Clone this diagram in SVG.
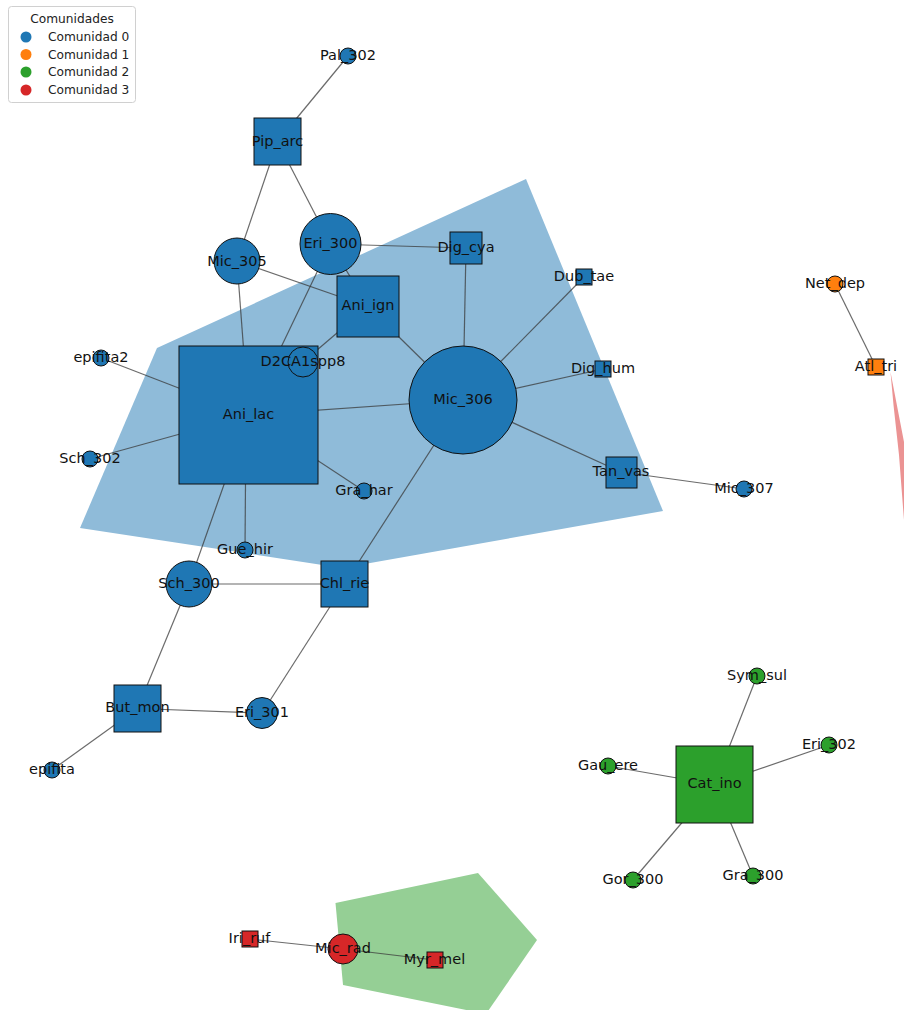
<svg xmlns="http://www.w3.org/2000/svg" width="904" height="1010" viewBox="0 0 904 1010">
<style>
.e{stroke:#3a3a3a;stroke-opacity:0.75;stroke-width:1.2;fill:none}
.n{stroke:#111;stroke-width:1}
.c0{fill:#1f77b4}.c1{fill:#ff7f0e}.c2{fill:#2ca02c}.c3{fill:#d62728}
.l{font-family:"DejaVu Sans","Noto Sans",sans-serif;font-size:14.5px;fill:#111;text-anchor:middle;dominant-baseline:central}
.lg{font-family:"DejaVu Sans","Noto Sans",sans-serif;font-size:12.2px;fill:#222;dominant-baseline:central}
</style>
<rect width="904" height="1010" fill="#fff"/>
<g id="hulls">
<polygon points="526,179 663,511 342,568 80,528 157,348" fill="#8fbbd9"/>
<polygon points="890.5,372 904,442 904,520 899,455 893.5,405" fill="#eb9393"/>
<polygon points="335.5,903 478,873 537,940 486,1014 343,985" fill="#95cf95"/>
</g>
<g id="edges">
<line class="e" x1="348" y1="56" x2="277.5" y2="141.5"/>
<line class="e" x1="277.5" y1="141.5" x2="237" y2="261"/>
<line class="e" x1="277.5" y1="141.5" x2="330.5" y2="244"/>
<line class="e" x1="237" y1="261" x2="368" y2="306.5"/>
<line class="e" x1="237" y1="261" x2="248.5" y2="415"/>
<line class="e" x1="330.5" y1="244" x2="466" y2="248"/>
<line class="e" x1="330.5" y1="244" x2="248.5" y2="415"/>
<line class="e" x1="330.5" y1="244" x2="368" y2="306.5"/>
<line class="e" x1="368" y1="306.5" x2="303" y2="362"/>
<line class="e" x1="368" y1="306.5" x2="463" y2="400"/>
<line class="e" x1="466" y1="248" x2="463" y2="400"/>
<line class="e" x1="584" y1="277" x2="463" y2="400"/>
<line class="e" x1="603" y1="369" x2="463" y2="400"/>
<line class="e" x1="621" y1="472" x2="463" y2="400"/>
<line class="e" x1="621" y1="472" x2="744" y2="489"/>
<line class="e" x1="248.5" y1="415" x2="463" y2="400"/>
<line class="e" x1="463" y1="400" x2="344.5" y2="584"/>
<line class="e" x1="248.5" y1="415" x2="101" y2="358"/>
<line class="e" x1="248.5" y1="415" x2="90" y2="459"/>
<line class="e" x1="248.5" y1="415" x2="364" y2="491"/>
<line class="e" x1="246" y1="415" x2="245" y2="550"/>
<line class="e" x1="248.5" y1="415" x2="189" y2="584"/>
<line class="e" x1="189" y1="584" x2="344.5" y2="584"/>
<line class="e" x1="189" y1="584" x2="137.5" y2="708.5"/>
<line class="e" x1="137.5" y1="708.5" x2="262" y2="713"/>
<line class="e" x1="344.5" y1="584" x2="262" y2="713"/>
<line class="e" x1="137.5" y1="708.5" x2="52" y2="770"/>
<line class="e" x1="835" y1="284" x2="876" y2="367"/>
<line class="e" x1="714.5" y1="784.5" x2="757" y2="676"/>
<line class="e" x1="714.5" y1="784.5" x2="829" y2="745"/>
<line class="e" x1="714.5" y1="784.5" x2="608" y2="766"/>
<line class="e" x1="714.5" y1="784.5" x2="633" y2="880"/>
<line class="e" x1="714.5" y1="784.5" x2="753" y2="876"/>
<line class="e" x1="249.5" y1="939" x2="343" y2="949"/>
<line class="e" x1="343" y1="949" x2="434.5" y2="960"/>
</g>
<g id="Pal_302"><circle class="n c0" cx="348" cy="56" r="8"/><text class="l" x="348" y="55">Pal_302</text></g>
<g id="Pip_arc"><rect class="n c0" x="254" y="118" width="47" height="47"/><text class="l" x="277.5" y="141">Pip_arc</text></g>
<g id="Mic_305"><circle class="n c0" cx="237" cy="261" r="23"/><text class="l" x="237" y="261">Mic_305</text></g>
<g id="Eri_300"><circle class="n c0" cx="330.5" cy="244" r="30.5"/><text class="l" x="330.5" y="243">Eri_300</text></g>
<g id="Ani_ign"><rect class="n c0" x="337" y="276" width="62" height="61"/><text class="l" x="368" y="305">Ani_ign</text></g>
<g id="Dig_cya"><rect class="n c0" x="450" y="232" width="32" height="32"/><text class="l" x="466" y="247">Dig_cya</text></g>
<g id="Dub_tae"><rect class="n c0" x="576" y="269" width="16" height="16"/><text class="l" x="584" y="276">Dub_tae</text></g>
<g id="Dig_hum"><rect class="n c0" x="595" y="361" width="16" height="16"/><text class="l" x="603" y="368">Dig_hum</text></g>
<g id="Mic_306"><circle class="n c0" cx="463" cy="400" r="54"/><text class="l" x="463" y="399">Mic_306</text></g>
<g id="Tan_vas"><rect class="n c0" x="606" y="457" width="31" height="31"/><text class="l" x="621" y="471">Tan_vas</text></g>
<g id="Mic_307"><circle class="n c0" cx="744" cy="489" r="8"/><text class="l" x="744" y="488">Mic_307</text></g>
<g id="Ani_lac"><rect class="n c0" x="179" y="346" width="139" height="138"/><text class="l" x="248.5" y="414">Ani_lac</text></g>
<g id="D2CA1spp8"><circle class="n c0" cx="303" cy="362" r="15"/><text class="l" x="303" y="361">D2CA1spp8</text></g>
<g id="epifita2"><circle class="n c0" cx="101" cy="358" r="8"/><text class="l" x="101" y="357">epifita2</text></g>
<g id="Sch_302"><circle class="n c0" cx="90" cy="459" r="8"/><text class="l" x="90" y="458">Sch_302</text></g>
<g id="Gra_har"><circle class="n c0" cx="364" cy="491" r="8"/><text class="l" x="364" y="490">Gra_har</text></g>
<g id="Gue_hir"><circle class="n c0" cx="245" cy="550" r="8"/><text class="l" x="245" y="549">Gue_hir</text></g>
<g id="Sch_300"><circle class="n c0" cx="189" cy="584" r="23"/><text class="l" x="189" y="583">Sch_300</text></g>
<g id="Chl_rie"><rect class="n c0" x="321" y="561" width="47" height="46"/><text class="l" x="344.5" y="583">Chl_rie</text></g>
<g id="But_mon"><rect class="n c0" x="114" y="685" width="47" height="47"/><text class="l" x="137.5" y="707">But_mon</text></g>
<g id="Eri_301"><circle class="n c0" cx="262" cy="713" r="15.5"/><text class="l" x="262" y="712">Eri_301</text></g>
<g id="epifita"><circle class="n c0" cx="52" cy="770" r="8"/><text class="l" x="52" y="769">epifita</text></g>
<g id="Net_dep"><circle class="n c1" cx="835" cy="284" r="8"/><text class="l" x="835" y="283">Net_dep</text></g>
<g id="Atl_tri"><rect class="n c1" x="868" y="359" width="16" height="16"/><text class="l" x="876" y="366">Atl_tri</text></g>
<g id="Cat_ino"><rect class="n c2" x="676" y="746" width="77" height="77"/><text class="l" x="714.5" y="783">Cat_ino</text></g>
<g id="Sym_sul"><circle class="n c2" cx="757" cy="676" r="8"/><text class="l" x="757" y="675">Sym_sul</text></g>
<g id="Eri_302"><circle class="n c2" cx="829" cy="745" r="8"/><text class="l" x="829" y="744">Eri_302</text></g>
<g id="Gau_ere"><circle class="n c2" cx="608" cy="766" r="8"/><text class="l" x="608" y="765">Gau_ere</text></g>
<g id="Gor_300"><circle class="n c2" cx="633" cy="880" r="8"/><text class="l" x="633" y="879">Gor_300</text></g>
<g id="Gra_300"><circle class="n c2" cx="753" cy="876" r="8"/><text class="l" x="753" y="875">Gra_300</text></g>
<g id="Iri_ruf"><rect class="n c3" x="242" y="931" width="16" height="16"/><text class="l" x="249.5" y="938">Iri_ruf</text></g>
<g id="Mic_rad"><circle class="n c3" cx="343" cy="949" r="15"/><text class="l" x="343" y="948">Mic_rad</text></g>
<g id="Myr_mel"><rect class="n c3" x="427" y="952" width="16" height="16"/><text class="l" x="434.5" y="959">Myr_mel</text></g>
<g id="legend">
<rect x="8.5" y="6.5" width="127" height="96" rx="3" fill="#fff" fill-opacity="0.8" stroke="#d0d0d0"/>
<text class="lg" x="72" y="19" text-anchor="middle">Comunidades</text>
<circle class="c0" cx="26" cy="37" r="5.5"/><text class="lg" x="48" y="37">Comunidad 0</text>
<circle class="c1" cx="26" cy="54.5" r="5.5"/><text class="lg" x="48" y="54.5">Comunidad 1</text>
<circle class="c2" cx="26" cy="72" r="5.5"/><text class="lg" x="48" y="72">Comunidad 2</text>
<circle class="c3" cx="26" cy="90" r="5.5"/><text class="lg" x="48" y="90">Comunidad 3</text>
</g>
</svg>
